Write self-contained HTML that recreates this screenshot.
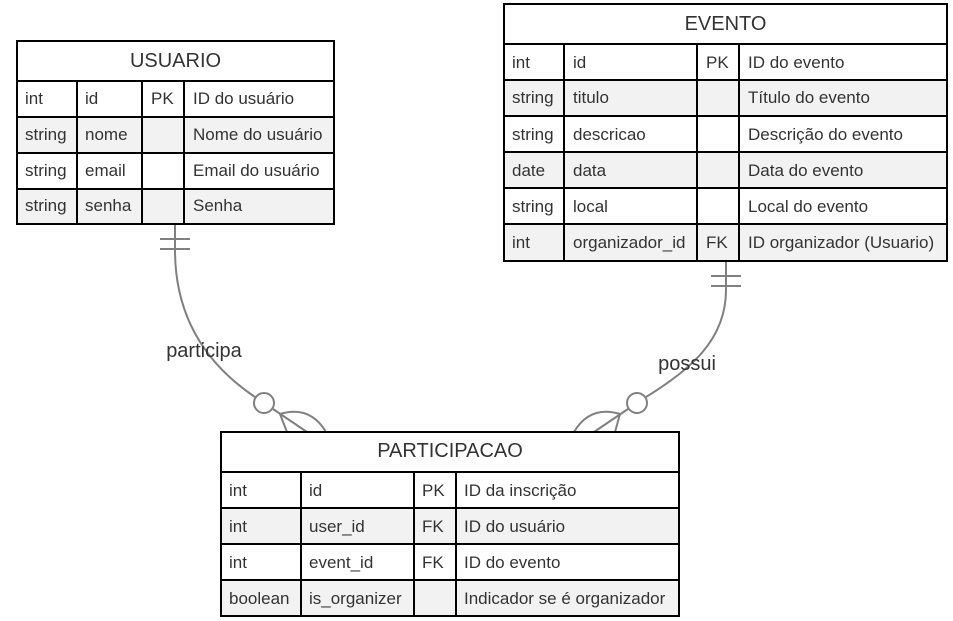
<!DOCTYPE html>
<html><head><meta charset="utf-8"><style>
html,body{margin:0;padding:0;background:#fff;}
svg{display:block;}
text{font-family:"Liberation Sans",Arial,sans-serif;fill:#333;font-size:17px;}
.t{font-size:20px;}
.l{font-size:20px;}
</style></head><body>
<svg width="953" height="621" viewBox="0 0 953 621" xmlns="http://www.w3.org/2000/svg">
<g fill="none" stroke="#808080" stroke-width="2">
<path d="M175,224 L175,250 C175,310 200,360 255,397"/>
<line x1="160" y1="239" x2="190" y2="239"/>
<line x1="160" y1="249" x2="190" y2="249"/>
<circle cx="264" cy="403" r="10" fill="#fff"/>
<line x1="273" y1="409" x2="307" y2="432"/>
<line x1="280" y1="414" x2="287" y2="432"/>
<path d="M280,414 Q310,405 326,432"/>
<path d="M726,261 L726,290 C726,340 690,370 646,397"/>
<line x1="711" y1="276" x2="741" y2="276"/>
<line x1="711" y1="286" x2="741" y2="286"/>
<circle cx="637" cy="403" r="10" fill="#fff"/>
<line x1="628" y1="409" x2="594" y2="432"/>
<line x1="620" y1="414" x2="615" y2="432"/>
<path d="M620,414 Q590,405 574,432"/>
</g>
<text class="l" x="204" y="357" text-anchor="middle">participa</text>
<text class="l" x="687" y="370" text-anchor="middle">possui</text>

<g stroke="#000" stroke-width="2">
<rect x="17" y="41" width="317" height="183" fill="#fff"/>
<rect x="17" y="117" width="317" height="36" fill="#f2f2f2"/>
<rect x="17" y="189" width="317" height="35" fill="#f2f2f2"/>
<line x1="17" y1="81" x2="334" y2="81"/><line x1="17" y1="153" x2="334" y2="153"/>
<line x1="77" y1="81" x2="77" y2="224"/><line x1="142" y1="81" x2="142" y2="224"/><line x1="184" y1="81" x2="184" y2="224"/>
</g>
<text class="t" x="175.5" y="67" text-anchor="middle">USUARIO</text>
<text x="25" y="104">int</text><text x="85" y="104">id</text><text x="151" y="104">PK</text><text x="193" y="104">ID do usuário</text>
<text x="25" y="140">string</text><text x="85" y="140">nome</text><text x="193" y="140">Nome do usuário</text>
<text x="25" y="176">string</text><text x="85" y="176">email</text><text x="193" y="176">Email do usuário</text>
<text x="25" y="211">string</text><text x="85" y="211">senha</text><text x="193" y="211">Senha</text>

<g stroke="#000" stroke-width="2">
<rect x="504" y="4" width="443" height="257" fill="#fff"/>
<rect x="504" y="80" width="443" height="36" fill="#f2f2f2"/>
<rect x="504" y="152" width="443" height="36" fill="#f2f2f2"/>
<rect x="504" y="224" width="443" height="37" fill="#f2f2f2"/>
<line x1="504" y1="44" x2="947" y2="44"/>
<line x1="564" y1="44" x2="564" y2="261"/><line x1="697" y1="44" x2="697" y2="261"/><line x1="739" y1="44" x2="739" y2="261"/>
</g>
<text class="t" x="725.5" y="30" text-anchor="middle">EVENTO</text>
<text x="512" y="68">int</text><text x="573" y="68">id</text><text x="706" y="68">PK</text><text x="748" y="68">ID do evento</text>
<text x="512" y="103">string</text><text x="573" y="103">titulo</text><text x="748" y="103">Título do evento</text>
<text x="512" y="140">string</text><text x="573" y="140">descricao</text><text x="748" y="140">Descrição do evento</text>
<text x="512" y="176">date</text><text x="573" y="176">data</text><text x="748" y="176">Data do evento</text>
<text x="512" y="212">string</text><text x="573" y="212">local</text><text x="748" y="212">Local do evento</text>
<text x="512" y="248">int</text><text x="573" y="248">organizador_id</text><text x="706" y="248">FK</text><text x="748" y="248">ID organizador (Usuario)</text>

<g stroke="#000" stroke-width="2">
<rect x="221" y="432" width="458" height="184" fill="#fff"/>
<rect x="221" y="508" width="458" height="36" fill="#f2f2f2"/>
<rect x="221" y="580" width="458" height="36" fill="#f2f2f2"/>
<line x1="221" y1="472" x2="679" y2="472"/>
<line x1="301" y1="472" x2="301" y2="616"/><line x1="414" y1="472" x2="414" y2="616"/><line x1="456" y1="472" x2="456" y2="616"/>
</g>
<text class="t" x="450" y="457" text-anchor="middle">PARTICIPACAO</text>
<text x="229" y="496">int</text><text x="309" y="496">id</text><text x="422" y="496">PK</text><text x="464" y="496">ID da inscrição</text>
<text x="229" y="532">int</text><text x="309" y="532">user_id</text><text x="422" y="532">FK</text><text x="464" y="532">ID do usuário</text>
<text x="229" y="568">int</text><text x="309" y="568">event_id</text><text x="422" y="568">FK</text><text x="464" y="568">ID do evento</text>
<text x="229" y="604">boolean</text><text x="309" y="604">is_organizer</text><text x="464" y="604">Indicador se é organizador</text>
</svg>
</body></html>
